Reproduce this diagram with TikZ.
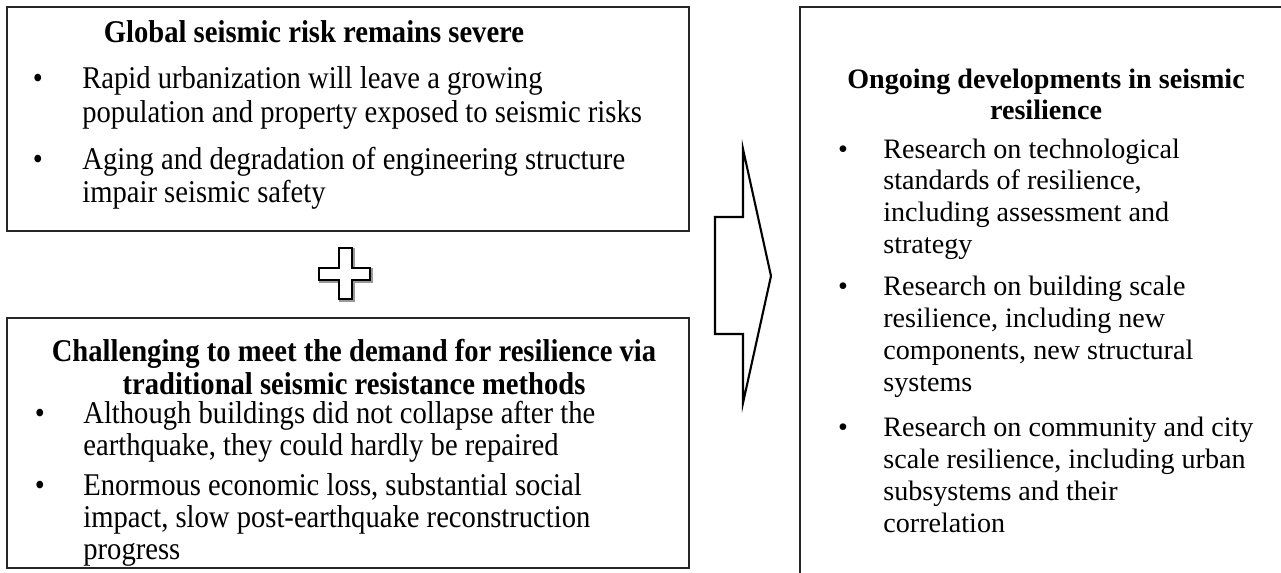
\documentclass[tikz,border=0pt]{standalone}
\usepackage{fontspec}
\setmainfont{Liberation Serif}
\newfontfamily\narrowserif[FakeStretch=0.905]{Liberation Serif}
\tikzset{
  frame/.style={draw=black!85, line width=1.2pt, inner sep=0pt},
  narrow/.style={font=\narrowserif\fontsize{18}{21}\selectfont},
  wide/.style={font=\fontsize{16}{19}\selectfont},
  head/.style={anchor=base, inner sep=0pt, execute at begin node=\bfseries},
  line/.style={anchor=base west, inner sep=0pt},
  dot/.style={anchor=base, inner sep=0pt}
}
\begin{document}
\begin{tikzpicture}[x=0.02cm,y=-0.02cm]
  \useasboundingbox (0,0) rectangle (1281,572);
  \clip (0,0) rectangle (1281,572);

  \node[frame, minimum width=13.64cm, minimum height=4.48cm] (risk) at (348,119) {};
  \node[frame, minimum width=13.64cm, minimum height=5cm] (demand) at (348,443) {};
  \node[frame, minimum width=10.4cm, minimum height=12cm] (ongoing) at (1060,307) {};

  \begin{scope}[narrow]
    \node[head] (risk-t) at (314,42) {Global seismic risk remains severe};
    \foreach \y/\t [count=\i] in {88/Rapid urbanization will leave a growing,
        122/population and property exposed to seismic risks,
        169/Aging and degradation of engineering structure,
        202/impair seismic safety}
      \node[line] (risk-\i) at (82,\y) {\t};
    \foreach \y [count=\i] in {88,169}
      \node[dot] (risk-b\i) at (38,\y) {•};

    \node[head] (demand-t1) at (354,361) {Challenging to meet the demand for resilience via};
    \node[head] (demand-t2) at (354,394) {traditional seismic resistance methods};
    \foreach \y/\t [count=\i] in {423/Although buildings did not collapse after the,
        455/{earthquake, they could hardly be repaired},
        495/{Enormous economic loss, substantial social},
        527/{impact, slow post-earthquake reconstruction},
        559/progress}
      \node[line] (demand-\i) at (83,\y) {\t};
    \foreach \y [count=\i] in {423,495}
      \node[dot] (demand-b\i) at (40,\y) {•};
  \end{scope}

  \begin{scope}[wide]
    \node[head] (ongoing-t1) at (1046,88) {Ongoing developments in seismic};
    \node[head] (ongoing-t2) at (1046,119) {resilience};
    \foreach \y/\t [count=\i] in {158/Research on technological,
        189/{standards of resilience,},
        221/including assessment and,
        253/strategy,
        295/Research on building scale,
        327/{resilience, including new},
        359/{components, new structural},
        391/systems,
        436/Research on community and city,
        468/{scale resilience, including urban},
        500/subsystems and their,
        532/correlation}
      \node[line] (ongoing-\i) at (883,\y) {\t};
    \foreach \y [count=\i] in {158,295,436}
      \node[dot] (ongoing-b\i) at (843,\y) {•};
  \end{scope}

  \draw[black!40, line width=1.6pt, shift={(1.5,1.5)}]
    (339,248) -- (352,248) -- (352,268) -- (370,268) -- (370,280) -- (352,280)
    -- (352,299) -- (339,299) -- (339,280) -- (319,280) -- (319,268) -- (339,268) -- cycle;
  \draw[line width=1.2pt, fill=white]
    (339,248) -- (352,248) -- (352,268) -- (370,268) -- (370,280) -- (352,280)
    -- (352,299) -- (339,299) -- (339,280) -- (319,280) -- (319,268) -- (339,268) -- cycle;

  \draw[line width=1.2pt]
    (715,217) -- (743,217) -- (743,149) -- (771,276) -- (743,403) -- (743,334) -- (715,334) -- cycle;
\end{tikzpicture}
\end{document}
